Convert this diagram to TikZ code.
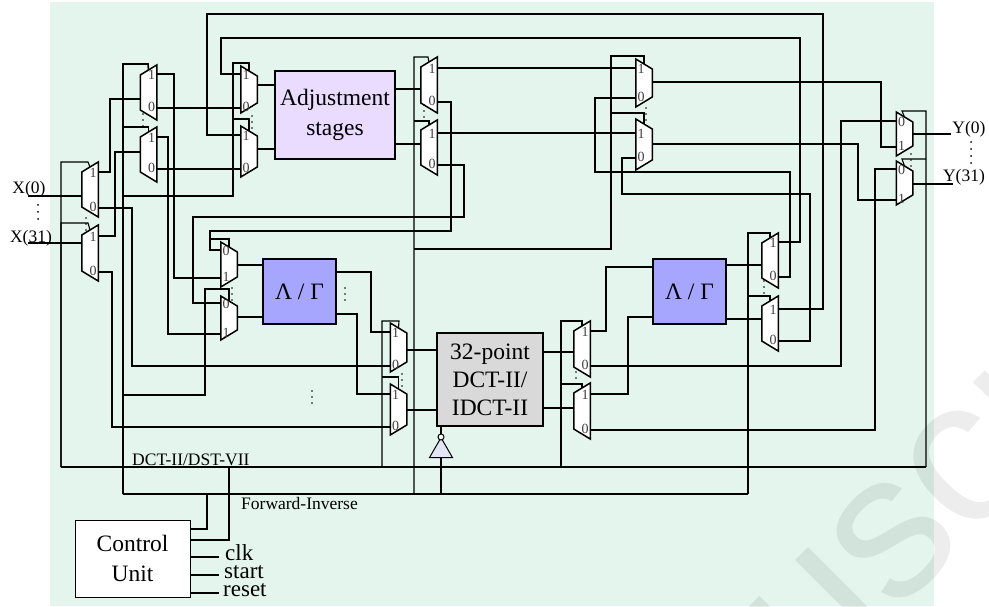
\documentclass[tikz,border=0pt]{standalone}
\usepackage{fontspec}
\setmainfont{Liberation Serif}
\newfontfamily\marksans{Liberation Sans}
\usetikzlibrary{shapes.geometric,positioning}

\definecolor{panelgreen}{HTML}{E3F5EC}
\definecolor{adjfill}{HTML}{E9DCFF}
\definecolor{lamfill}{HTML}{A6A6FF}
\definecolor{dctfill}{HTML}{D9D9D9}
\definecolor{invfill}{HTML}{E2E6F5}

\tikzset{
mux/.style={minimum width=16.5, inner sep=0pt, outer sep=0pt},
muxline/.style={draw, fill=white, line width=1.5pt},
muxlab/.style={inner sep=0pt, font=\fontsize{14}{14}\selectfont, text=black!75},
wire/.style={line width=1.1pt},
bwire/.style={line width=1.6pt},
block/.style={draw, line width=2pt, align=center, inner sep=0pt, font=\fontsize{23.5}{30}\selectfont},
sig/.style={inner sep=0pt, font=\fontsize{17.5}{20}\selectfont},
ctl/.style={inner sep=0pt, font=\fontsize{23}{23}\selectfont},
}

% name, centre x, centre y, length, y top port, y bottom port, y single port
\newcommand{\muxl}[7]{
  \node[mux, minimum height=#4] (#1) at (#2,#3) {};
  \path[muxline] (#1.north east) -- (#1.south east) -- ([yshift=10pt]#1.south west) -- ([yshift=-10pt]#1.north west) -- cycle;
  \coordinate (#1-t) at (#2+8.25,#5);
  \coordinate (#1-b) at (#2+8.25,#6);
  \coordinate (#1-o) at (#2-8.25,#7);
  \coordinate (#1-s) at (#2,#3-#4/2+5);
  \node[muxlab] (#1-lt) at (#2+3,#5+1) {1};
  \node[muxlab] (#1-lb) at (#2+3,#6-1) {0};
}
\newcommand{\muxr}[8][1]{
  \node[mux, minimum height=#5] (#2) at (#3,#4) {};
  \path[muxline] (#2.north west) -- (#2.south west) -- ([yshift=10pt]#2.south east) -- ([yshift=-10pt]#2.north east) -- cycle;
  \coordinate (#2-t) at (#3-8.25,#6);
  \coordinate (#2-b) at (#3-8.25,#7);
  \coordinate (#2-o) at (#3+8.25,#8);
  \coordinate (#2-s) at (#3,#4-#5/2+5);
  \node[muxlab] (#2-lt) at (#3-3,#6+1) {#1};
  \node[muxlab] (#2-lb) at (#3-3,#7-1) {\the\numexpr1-#1\relax};
}

\begin{document}
\begin{tikzpicture}[x=1pt,y=-1pt]
\useasboundingbox (0,0) rectangle (989,607);
\fill[panelgreen] (50,2) rectangle (934,606);
\node[rotate=45, anchor=base west, inner sep=0pt, opacity=0.07, font=\marksans\fontsize{206}{206}\selectfont] (mark) at (814,696) {uscr};

% blocks
\node[block, fill=adjfill, minimum width=120, minimum height=88] (adj) at (335,115) {Adjustment\hspace{4pt}\\stages};
\node[block, fill=lamfill, minimum width=73, minimum height=65] (lam1) at (299.5,291.5) {Λ / Γ};
\node[block, fill=lamfill, minimum width=73, minimum height=65] (lam2) at (689.5,291.5) {Λ / Γ};
\node[block, fill=dctfill, minimum width=106, minimum height=93, font=\fontsize{23.5}{28}\selectfont] (dct) at (490,379.5) {32-point\\DCT-II/\\IDCT-II};
\node[draw, fill=white, line width=1pt, minimum width=115, minimum height=77, align=center, inner sep=0pt, font=\fontsize{23.5}{30}\selectfont] (ctrl) at (132.5,558.5) {Control\hspace{8pt}\\Unit};

% muxes
\muxl{xa}{90}{189.5}{55}{172}{208}{196}
\muxl{xb}{90}{253}{56}{236}{272}{243}
\muxl{aa}{148.5}{92.5}{55}{74}{108}{99}
\muxl{ab}{148.5}{154.5}{55}{137}{169}{152}
\muxr{ba}{249}{89.5}{47}{74}{108}{85}
\muxr{bb}{249}{151.5}{51}{135}{169}{149}
\muxl{ca}{429}{85}{56}{68}{102}{89}
\muxl{cb}{429}{147.5}{55}{133}{165}{144}
\muxr{da}{644}{83}{48}{68}{98}{82}
\muxr{db}{644}{144.5}{51}{133}{158}{144}
\muxr[0]{ya}{904.5}{134}{44}{121}{147}{134}
\muxr[0]{yb}{904.5}{183}{44}{169}{200}{184}
\muxr[0]{ga}{229}{264.5}{45}{250}{278}{265}
\muxr[0]{gb}{229}{318}{44}{303}{334}{317}
\muxr{la}{398.5}{347.5}{49}{332}{366}{350}
\muxr{lb}{398.5}{409.5}{51}{394}{427}{410}
\muxl{qa}{582}{349}{56}{331}{366}{352}
\muxl{qb}{582}{411}{56}{394}{430}{408}
\muxl{ra}{770}{260.5}{55}{242}{277}{265}
\muxl{rb}{770}{323.5}{55}{309}{341}{319}

% inverter
\node[draw, isosceles triangle, isosceles triangle apex angle=60, shape border rotate=90, fill=invfill, line width=1pt, minimum height=20, inner sep=0pt, outer sep=0pt] (inv) at (441,451) {};
\node[draw, circle, fill=white, line width=1pt, minimum size=6, inner sep=0pt, outer sep=0pt] (bub) at (441,437) {};
\draw[wire] (dct.south -| bub) -- (bub);
\draw[wire] (inv.south) -- (inv.south |- 0,493);

% inputs and outputs
\coordinate (xin0) at (28,196);
\coordinate (xin1) at (28,243);
\coordinate (yout0) at (951,134);
\coordinate (yout1) at (953,184);
\draw[wire] (xin0) -- (xa-o);
\draw[bwire] (xin1) -- (xb-o);
\draw[bwire] (ya-o) -- (yout0);
\draw[wire] (yb-o) -- (yout1);
\node[sig, anchor=base] (xl0) at (29,194) {X(0)};
\node[sig, anchor=base] (xl1) at (31,243) {X(31)};
\node[sig, anchor=base] (yl0) at (969,134) {Y(0)};
\node[sig, anchor=base] (yl1) at (964,182) {Y(31)};

% first stage
\draw[bwire] (xa-t) -| (110,99) -- (aa-o);
\draw[bwire] (xa-b) -| (132,366) -- (la-b);
\draw[wire] (xb-t) -| (115,152) -- (ab-o);
\draw[wire] (xb-b) -| (112,427) -- (lb-b);
\draw[bwire] (aa-t) -| (174,278) -- (ga-b);
\draw[bwire] (aa-b) -- (ba-b);
\draw[wire] (ab-t) -| (168,334) -- (gb-b);
\draw[bwire] (ab-b) -- (bb-b);

% adjustment stage
\draw[wire] (ba-o) -- (ba-o -| adj.west);
\draw[wire] (bb-o) -- (bb-o -| adj.west);
\draw[wire] (adj.east |- ca-o) -- (ca-o);
\draw[wire] (adj.east |- cb-o) -- (cb-o);
\draw[wire] (ca-t) -- (da-t);
\draw[wire] (cb-t) -- (db-t);
\draw[bwire] (ca-b) -| (451,231) -| (210,250) -- (ga-t);
\draw[bwire] (cb-b) -| (464,217) -| (193,303) -- (gb-t);
\draw[wire] (da-o) -| (881,147) -- (ya-b);
\draw[wire] (db-o) -| (858,200) -- (yb-b);
\draw[bwire] (da-b) -| (595,172) -| (790,277) -- (ra-b);
\draw[bwire] (db-b) -| (622,194) -| (810,341) -- (rb-b);

% Lambda/Gamma stages
\draw[wire] (ga-o) -- (ga-o -| lam1.west);
\draw[wire] (gb-o) -- (gb-o -| lam1.west);
\draw[wire] (lam1.east |- 0,272) -| (371,332) -- (la-t);
\draw[wire] (lam1.east |- 0,314) -| (357,394) -- (lb-t);
\draw[wire] (la-o) -- (la-o -| dct.west);
\draw[wire] (lb-o) -- (lb-o -| dct.west);
\draw[wire] (dct.east |- qa-o) -- (qa-o);
\draw[wire] (dct.east |- qb-o) -- (qb-o);
\draw[bwire] (qa-t) -| (606,267) -- (606,267 -| lam2.west);
\draw[wire] (qb-t) -| (628,317) -- (628,317 -| lam2.west);
\draw[wire] (lam2.east |- ra-o) -- (ra-o);
\draw[wire] (lam2.east |- rb-o) -- (rb-o);
\draw[wire] (ra-t) -| (800,38) -| (221,74) -- (ba-t);
\draw[wire] (rb-t) -| (823,14) -| (207,135) -- (bb-t);
\draw[wire] (qa-b) -| (841,121) -- (ya-t);
\draw[bwire] (qb-b) -| (875,169) -- (yb-t);

% DCT-II/DST-VII control
\coordinate (cdct) at (61,467);
\coordinate (cdcte) at (926,467);
\draw[wire] (cdct) -- (cdcte);
\draw[wire] (cdct) |- (88,162) -- (xa-s);
\draw[wire] (cdct) |- (88,223) -- (xb-s);
\draw[wire] (cdcte) |- (902,111) -- (ya-s);
\draw[wire] (926,159) -- (902,159) -- (yb-s);
\draw[wire] (382,467) |- (399,321) -- (la-s);
\draw[wire] (382,377) -| (lb-s);
\draw[wire] (561,467) |- (582,321) -- (qa-s);
\draw[wire] (561,384) -| (qb-s);

% Forward-Inverse control
\coordinate (cfwd) at (123,494);
\coordinate (cfwde) at (748,494);
\draw[bwire] (cfwd) -- (cfwde);
\draw[bwire] (cfwd) |- (148,64) -- (aa-s);
\draw[wire] (123,127) -| (ab-s);
\draw[wire] (123,196) -| (233,63) -| (ba-s);
\draw[wire] (233,119) -| (bb-s);
\draw[wire] (123,395) -| (205,289) -| (gb-s);
\draw[wire] (210,239) -| (ga-s);
\draw[wire] (414,493) |- (428,57) -- (ca-s);
\draw[wire] (414,121) -| (cb-s);
\draw[wire] (414,249) -| (611,56) -| (da-s);
\draw[wire] (611,113) -| (db-s);
\draw[wire] (cfwde) |- (770,233) -- (ra-s);
\draw[wire] (748,296) -| (rb-s);

% control unit
\coordinate (ckl) at (218.5,557);
\coordinate (stl) at (218.5,575);
\coordinate (rsl) at (218.5,593);
\draw[wire] (ctrl.east |- 0,529) -| (207,494);
\draw[bwire] (ctrl.east |- 0,540) -| (229,467);
\draw[wire] (ctrl.east |- ckl) -- (ckl);
\draw[wire] (ctrl.east |- stl) -- (stl);
\draw[wire] (ctrl.east |- rsl) -- (rsl);
\node[ctl, anchor=west] (clk) at (225,553) {clk};
\node[ctl, anchor=west] (start) at (224,572) {start};
\node[ctl, anchor=west] (reset) at (223,590) {reset};
\node[sig, anchor=base west] (ldct) at (132,465) {DCT-II/DST-VII};
\node[sig, anchor=base west] (lfwd) at (241,509) {Forward-Inverse};

% dots
\foreach \px/\py/\pn in {38/205/3, 971/142/4}
  \foreach \k in {1,...,\pn}
    \fill (\px,\py+7*\k-7) circle (1);
\foreach \px/\py in {312/391, 345/288, 86/218, 143/114, 252/116, 232/288, 402/374, 424/105, 646/108, 911/154, 576/372, 764/281}
  \foreach \k in {1,2,3}
    \fill (\px,\py+6*\k-6) circle (0.8);
\end{tikzpicture}
\end{document}
